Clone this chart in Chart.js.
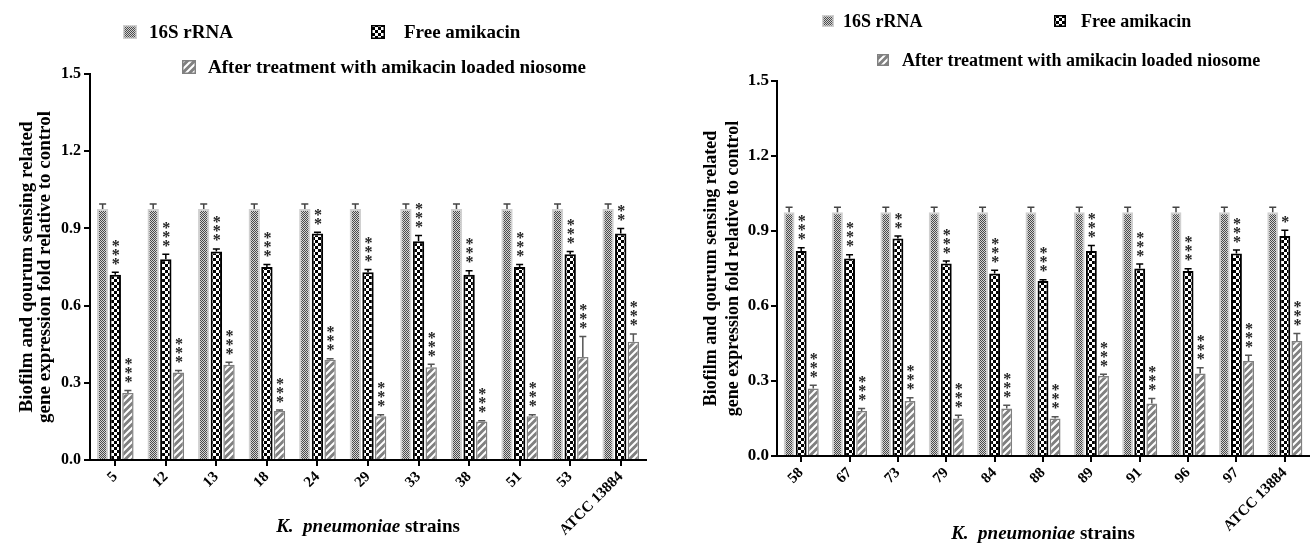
<!DOCTYPE html>
<html><head><meta charset="utf-8">
<script src="https://cdn.jsdelivr.net/npm/chart.js@4.4.0/dist/chart.umd.min.js"></script>
<style>
html,body{margin:0;padding:0;background:#fff;}
#wrap{position:relative;width:1314px;height:543px;overflow:hidden;background:#fff;}
#c1{position:absolute;left:0;top:0;}
#c2{position:absolute;left:660px;top:0;}
</style></head><body>
<div id="wrap"><canvas id="c1" width="660" height="543"></canvas><canvas id="c2" width="654" height="543"></canvas></div>
<script>
// ---------- DATA ----------
const seriesNames = ['16S rRNA', 'Free amikacin', 'After treatment with amikacin loaded niosome'];
const yTicks = [0.0, 0.3, 0.6, 0.9, 1.2, 1.5];
const yTitle = ['Biofilm and qourum sensing related', 'gene expression fold relative to control'];

// Left panel
const strainsA = ['5', '12', '13', '18', '24', '29', '33', '38', '51', '53', 'ATCC 13884'];
const rrnaA    = [0.975, 0.975, 0.975, 0.975, 0.975, 0.975, 0.975, 0.975, 0.975, 0.975, 0.975];
const rrnaErrA = [0.02, 0.02, 0.02, 0.02, 0.02, 0.02, 0.02, 0.02, 0.02, 0.02, 0.02];
const freeA    = [0.72, 0.78, 0.81, 0.75, 0.88, 0.73, 0.85, 0.72, 0.75, 0.80, 0.88];
const freeErrA = [0.01, 0.02, 0.01, 0.01, 0.005, 0.01, 0.022, 0.015, 0.01, 0.01, 0.02];
const nioA     = [0.26, 0.34, 0.37, 0.19, 0.39, 0.17, 0.36, 0.15, 0.17, 0.40, 0.46];
const nioErrA  = [0.01, 0.008, 0.01, 0.004, 0.003, 0.006, 0.012, 0.003, 0.006, 0.08, 0.03];
const freeSigA = ['***', '***', '***', '***', '**', '***', '***', '***', '***', '***', '**'];
const nioSigA  = ['***', '***', '***', '***', '***', '***', '***', '***', '***', '***', '***'];

// Right panel
const strainsB = ['58', '67', '73', '79', '84', '88', '89', '91', '96', '97', 'ATCC 13884'];
const rrnaB    = [0.975, 0.975, 0.975, 0.975, 0.975, 0.975, 0.975, 0.975, 0.975, 0.975, 0.975];
const rrnaErrB = [0.02, 0.02, 0.02, 0.02, 0.02, 0.02, 0.02, 0.02, 0.02, 0.02, 0.02];
const freeB    = [0.82, 0.79, 0.87, 0.77, 0.73, 0.70, 0.82, 0.75, 0.74, 0.81, 0.88];
const freeErrB = [0.013, 0.015, 0.01, 0.01, 0.013, 0.005, 0.022, 0.018, 0.009, 0.014, 0.023];
const nioB     = [0.27, 0.18, 0.22, 0.15, 0.19, 0.15, 0.32, 0.21, 0.33, 0.38, 0.46];
const nioErrB  = [0.013, 0.01, 0.013, 0.013, 0.013, 0.007, 0.007, 0.02, 0.023, 0.023, 0.03];
const freeSigB = ['***', '***', '**', '***', '***', '***', '***', '***', '***', '***', '*'];
const nioSigB  = ['***', '***', '***', '***', '***', '***', '***', '***', '***', '***', '***'];

// ---------- STYLE ----------
const FONT = '"Liberation Serif", "Times New Roman", serif';

function makePattern(kind) {
  const c = document.createElement('canvas');
  const x = c.getContext('2d');
  if (kind === 'rrna') {
    c.width = 2; c.height = 2;
    x.fillStyle = '#d4d4d4'; x.fillRect(0, 0, 2, 2);
    x.fillStyle = '#4a4a4a'; x.fillRect(0, 0, 1, 1); x.fillRect(1, 1, 1, 1);
  } else if (kind === 'free') {
    c.width = 6; c.height = 6;
    x.fillStyle = '#000'; x.fillRect(0, 0, 6, 6);
    x.fillStyle = '#fff'; x.fillRect(0, 0, 3, 3); x.fillRect(3, 3, 3, 3);
  } else {
    c.width = 7; c.height = 7;
    x.fillStyle = '#808080'; x.fillRect(0, 0, 7, 7);
    x.strokeStyle = '#fff'; x.lineWidth = 2;
    x.beginPath();
    x.moveTo(-1, 8); x.lineTo(8, -1);
    x.moveTo(-4.5, 4.5); x.lineTo(4.5, -4.5);
    x.moveTo(2.5, 11.5); x.lineTo(11.5, 2.5);
    x.stroke();
  }
  return x.createPattern(c, 'repeat');
}

const seriesStyle = [
  { bg: makePattern('rrna'), border: '#d0d0d0', bw: 2, err: '#444' },
  { bg: makePattern('free'), border: '#000', bw: 2, err: '#000' },
  { bg: makePattern('nio'), border: '#808080', bw: 1.5, err: '#555' }
];

const overlay = {
  id: 'overlay',
  afterDatasetsDraw(chart, args, opts) {
    const ctx = chart.ctx, ys = chart.scales.y;
    chart.data.datasets.forEach((ds, i) => {
      const meta = chart.getDatasetMeta(i);
      meta.data.forEach((el, j) => {
        const top = ys.getPixelForValue(ds.data[j] + ds.errors[j]);
        ctx.save();
        ctx.strokeStyle = ds.errColor; ctx.lineWidth = 1.5;
        ctx.beginPath();
        ctx.moveTo(el.x, el.y); ctx.lineTo(el.x, top);
        ctx.moveTo(el.x - 3.5, top); ctx.lineTo(el.x + 3.5, top);
        ctx.stroke();
        const sig = ds.sig ? ds.sig[j] : '';
        if (sig) {
          ctx.fillStyle = '#222';
          ctx.font = 'bold 16px ' + FONT;
          ctx.textAlign = 'center'; ctx.textBaseline = 'alphabetic';
          const m = ctx.measureText('*');
          const off = (m.actualBoundingBoxAscent - m.actualBoundingBoxDescent) / 2;
          for (let k = 0; k < sig.length; k++) {
            const cy = top - opts.starGap - k * 9;
            ctx.fillText('*', el.x + 0.5, cy + off);
          }
        }
        ctx.restore();
      });
    });
  },
  afterDraw(chart, args, opts) {
    const ctx = chart.ctx;
    ctx.save();
    // legend
    opts.legend.forEach(it => {
      const s = seriesStyle[it.series];
      const sz = it.box;
      ctx.fillStyle = s.bg;
      ctx.fillRect(it.x, it.y - sz / 2, sz, sz);
      ctx.strokeStyle = s.border; ctx.lineWidth = 1.5;
      ctx.strokeRect(it.x + 0.75, it.y - sz / 2 + 0.75, sz - 1.5, sz - 1.5);
      ctx.fillStyle = '#000';
      ctx.font = 'bold ' + it.size + 'px ' + FONT;
      ctx.textAlign = 'left'; ctx.textBaseline = 'middle';
      ctx.fillText(seriesNames[it.series], it.tx, it.y + 1);
    });
    // x title with italic species name
    const parts = [['K.  pneumoniae', 'italic bold '], [' strains', 'bold ']];
    let total = 0;
    parts.forEach(p => { ctx.font = p[1] + opts.xTitleSize + 'px ' + FONT; total += ctx.measureText(p[0]).width; });
    const ca = chart.chartArea;
    let x = (ca.left + ca.right) / 2 - total / 2;
    ctx.fillStyle = '#000'; ctx.textAlign = 'left'; ctx.textBaseline = 'middle';
    parts.forEach(p => {
      ctx.font = p[1] + opts.xTitleSize + 'px ' + FONT;
      ctx.fillText(p[0], x, opts.xTitleY);
      x += ctx.measureText(p[0]).width;
    });
    ctx.restore();
  }
};

function buildChart(canvasId, cfg) {
  const datasets = [
    { label: seriesNames[0], data: cfg.rrna, errors: cfg.rrnaErr, sig: null },
    { label: seriesNames[1], data: cfg.free, errors: cfg.freeErr, sig: cfg.freeSig },
    { label: seriesNames[2], data: cfg.nio, errors: cfg.nioErr, sig: cfg.nioSig }
  ].map((d, i) => Object.assign(d, {
    backgroundColor: seriesStyle[i].bg,
    borderColor: seriesStyle[i].border,
    borderWidth: seriesStyle[i].bw,
    errColor: seriesStyle[i].err,
    categoryPercentage: 0.75,
    barPercentage: 0.9
  }));
  const H = document.getElementById(canvasId).height;
  return new Chart(document.getElementById(canvasId), {
    type: 'bar',
    data: { labels: cfg.labels, datasets },
    options: {
      responsive: false, animation: false, devicePixelRatio: 1,
      layout: { padding: { left: 0, right: cfg.padRight, top: cfg.top, bottom: 0 } },
      plugins: {
        legend: { display: false }, tooltip: { enabled: false }, title: { display: false },
        overlay: { legend: cfg.legend, xTitleY: cfg.xTitleY, xTitleSize: 19, starGap: 11 }
      },
      scales: {
        x: {
          type: 'category', offset: true,
          grid: { display: true, drawOnChartArea: false, offset: false, color: '#000', lineWidth: 2, tickLength: 6, tickWidth: 2, tickColor: '#000' },
          border: { color: '#000', width: 2 },
          ticks: { minRotation: 45, maxRotation: 45, autoSkip: false, color: '#000', padding: 2,
                   font: { family: FONT, weight: 'bold', size: 15 } },
          afterFit(s) { s.height = H - cfg.bottom; s.paddingRight = 0; s.paddingLeft = 0; }
        },
        y: {
          min: 0, max: 1.5,
          afterBuildTicks(s) { s.ticks = yTicks.map(v => ({ value: v })); },
          ticks: { color: '#000', padding: cfg.yTickPad, callback: v => Number(v).toFixed(1),
                   font: { family: FONT, weight: 'bold', size: cfg.yTickSize } },
          grid: { display: true, drawOnChartArea: false, color: '#000', lineWidth: 2, tickLength: 6, tickWidth: 2, tickColor: '#000' },
          border: { color: '#000', width: 2 },
          title: { display: true, text: yTitle, color: '#000',
                   font: { family: FONT, weight: 'bold', size: cfg.titleSize, lineHeight: cfg.titleLH },
                   padding: { top: cfg.titlePad, bottom: 0 } },
          afterFit(s) { s.width = cfg.axisX; }
        }
      }
    },
    plugins: [overlay]
  });
}

buildChart('c1', {
  labels: strainsA, rrna: rrnaA, rrnaErr: rrnaErrA, free: freeA, freeErr: freeErrA,
  nio: nioA, nioErr: nioErrA, freeSig: freeSigA, nioSig: nioSigA,
  top: 74, bottom: 460, padRight: 14, axisX: 90, titlePad: 18, titleLH: 0.95, titleSize: 19,
  yTickPad: 3, yTickSize: 16, xTitleY: 527,
  legend: [
    { series: 0, x: 123, tx: 149, y: 32, box: 14, size: 19 },
    { series: 1, x: 371, tx: 404, y: 32, box: 14, size: 19 },
    { series: 2, x: 182, tx: 208, y: 67, box: 14, size: 19 }
  ]
});

buildChart('c2', {
  labels: strainsB, rrna: rrnaB, rrnaErr: rrnaErrB, free: freeB, freeErr: freeErrB,
  nio: nioB, nioErr: nioErrB, freeSig: freeSigB, nioSig: nioSigB,
  top: 81, bottom: 456, padRight: 5, axisX: 117, titlePad: 41, titleLH: 1.2, titleSize: 18,
  yTickPad: 2, yTickSize: 17, xTitleY: 534,
  legend: [
    { series: 0, x: 162, tx: 183, y: 21, box: 12, size: 18 },
    { series: 1, x: 394, tx: 421, y: 21, box: 12, size: 18 },
    { series: 2, x: 217, tx: 242, y: 60, box: 12, size: 18 }
  ]
});
</script>
</body></html>
